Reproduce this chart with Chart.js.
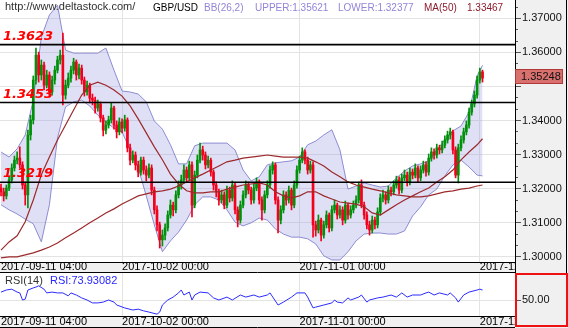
<!DOCTYPE html>
<html>
<head>
<meta charset="utf-8">
<script src="https://cdn.jsdelivr.net/npm/chart.js@4.4.1/dist/chart.umd.min.js"></script>
<style>
  html, body { margin:0; padding:0; background:#fff; }
  #wrap { position:relative; width:568px; height:328px; overflow:hidden; background:#fff; }
  canvas { position:absolute; left:0; }
  #c1 { top:0; width:568px; height:273px; }
  #c2 { top:273px; width:568px; height:55px; }
  .t { position:absolute; font-family:"Liberation Sans", Arial, sans-serif; font-size:10px; line-height:13px; white-space:nowrap; }
  .u { font-size:11px; }
</style>
</head>
<body>
<div id="wrap">
  <canvas id="c1" width="568" height="273"></canvas>
  <canvas id="c2" width="568" height="55"></canvas>
  <span class="t u" style="left:5px;top:0;color:#303030">http://www.deltastock.com/</span>
  <span class="t" style="left:153px;top:1px;color:#000">GBP/USD</span>
  <span class="t" style="left:204px;top:1px;color:#9484d8">BB(26,2)</span>
  <span class="t" style="left:255px;top:1px;color:#9484d8">UPPER:1.35621</span>
  <span class="t" style="left:338px;top:1px;color:#9484d8">LOWER:1.32377</span>
  <span class="t" style="left:424px;top:1px;color:#8b1c2c">MA(50)</span>
  <span class="t" style="left:467px;top:1px;color:#8b1c2c">1.33467</span>
  <span class="t u" style="left:5px;top:274px;color:#333">RSI(14)</span>
  <span class="t u" style="left:50px;top:274px;color:#2828ff">RSI:73.93082</span>
</div>
<script>
// ---------------- data ----------------
const dateLabels  = ['2017-09-11 04:00', '2017-10-02 00:00', '2017-11-01 00:00', '2017-12-01 00:00'];
const dateTickIdx = [0, 45, 111, 178];
const levels = [1.3623, 1.3453, 1.3219];
const rsiTicks = [50];

const open = [
1.3202,1.3191,1.3179,1.3202,1.3226,1.3261,1.3284,1.3290,1.3270,1.3211,
1.3182,1.3358,1.3402,1.3519,1.3592,1.3534,1.3563,1.3504,1.3534,1.3484,
1.3519,1.3548,1.3578,1.3592,1.3475,1.3504,1.3525,1.3548,1.3572,1.3534,
1.3554,1.3519,1.3484,1.3504,1.3466,1.3460,1.3437,1.3449,1.3408,1.3372,
1.3387,1.3402,1.3437,1.3387,1.3367,1.3396,1.3378,1.3402,1.3320,1.3284,
1.3299,1.3270,1.3249,1.3284,1.3255,1.3240,1.3261,1.3196,1.3138,1.3094,
1.3050,1.3064,1.3085,1.3123,1.3152,1.3138,1.3182,1.3211,1.3226,1.3255,
1.3232,1.3270,1.3152,1.3240,1.3284,1.3314,1.3299,1.3270,1.3284,1.3249,
1.3211,1.3191,1.3167,1.3182,1.3152,1.3196,1.3173,1.3211,1.3138,1.3108,
1.3152,1.3182,1.3211,1.3196,1.3167,1.3202,1.3220,1.3167,1.3138,1.3182,
1.3211,1.3255,1.3270,1.3167,1.3108,1.3138,1.3182,1.3167,1.3196,1.3152,
1.3211,1.3255,1.3284,1.3308,1.3284,1.3255,1.3270,1.3094,1.3079,1.3108,
1.3064,1.3094,1.3123,1.3085,1.3138,1.3152,1.3123,1.3138,1.3108,1.3152,
1.3123,1.3138,1.3152,1.3167,1.3211,1.3152,1.3123,1.3094,1.3079,1.3108,
1.3094,1.3132,1.3173,1.3182,1.3167,1.3196,1.3191,1.3211,1.3226,1.3196,
1.3232,1.3240,1.3220,1.3249,1.3240,1.3261,1.3232,1.3255,1.3270,1.3249,
1.3290,1.3308,1.3299,1.3320,1.3314,1.3328,1.3343,1.3358,1.3367,1.3314,
1.3240,1.3320,1.3343,1.3367,1.3387,1.3425,1.3449,1.3475,1.3519,1.3543];

const high = [
1.3214,1.3202,1.3211,1.3237,1.3273,1.3296,1.3308,1.3323,1.3279,1.3220,
1.3372,1.3416,1.3531,1.3613,1.3601,1.3578,1.3572,1.3548,1.3543,1.3531,
1.3560,1.3589,1.3607,1.3657,1.3519,1.3540,1.3560,1.3583,1.3578,1.3566,
1.3563,1.3528,1.3516,1.3510,1.3478,1.3469,1.3460,1.3455,1.3416,1.3399,
1.3413,1.3452,1.3443,1.3399,1.3408,1.3405,1.3416,1.3408,1.3331,1.3311,
1.3308,1.3281,1.3293,1.3293,1.3267,1.3273,1.3270,1.3205,1.3150,1.3102,
1.3079,1.3097,1.3135,1.3167,1.3161,1.3194,1.3223,1.3240,1.3270,1.3264,
1.3281,1.3279,1.3252,1.3299,1.3334,1.3325,1.3308,1.3296,1.3290,1.3255,
1.3220,1.3199,1.3196,1.3191,1.3208,1.3205,1.3223,1.3217,1.3147,1.3164,
1.3194,1.3223,1.3220,1.3205,1.3214,1.3232,1.3226,1.3176,1.3194,1.3223,
1.3267,1.3279,1.3276,1.3176,1.3150,1.3194,1.3191,1.3208,1.3202,1.3223,
1.3267,1.3296,1.3320,1.3314,1.3293,1.3281,1.3279,1.3105,1.3123,1.3114,
1.3105,1.3135,1.3129,1.3150,1.3167,1.3158,1.3150,1.3147,1.3164,1.3158,
1.3150,1.3164,1.3179,1.3220,1.3226,1.3161,1.3132,1.3105,1.3120,1.3117,
1.3144,1.3185,1.3196,1.3191,1.3208,1.3205,1.3223,1.3237,1.3235,1.3243,
1.3255,1.3249,1.3261,1.3258,1.3273,1.3267,1.3267,1.3281,1.3279,1.3302,
1.3320,1.3317,1.3331,1.3328,1.3340,1.3355,1.3369,1.3378,1.3372,1.3323,
1.3331,1.3355,1.3378,1.3399,1.3437,1.3460,1.3487,1.3531,1.3554,1.3548];

const low = [
1.3179,1.3164,1.3170,1.3194,1.3217,1.3252,1.3273,1.3261,1.3199,1.3152,
1.3144,1.3343,1.3390,1.3507,1.3513,1.3519,1.3490,1.3496,1.3469,1.3475,
1.3507,1.3540,1.3566,1.3446,1.3463,1.3496,1.3513,1.3537,1.3519,1.3522,
1.3507,1.3472,1.3475,1.3452,1.3446,1.3422,1.3428,1.3396,1.3355,1.3361,
1.3378,1.3393,1.3375,1.3349,1.3358,1.3364,1.3369,1.3308,1.3270,1.3276,
1.3255,1.3235,1.3240,1.3243,1.3223,1.3232,1.3182,1.3126,1.3076,1.3026,
1.3032,1.3050,1.3076,1.3114,1.3120,1.3129,1.3173,1.3199,1.3217,1.3220,
1.3223,1.3117,1.3144,1.3232,1.3276,1.3284,1.3258,1.3261,1.3237,1.3196,
1.3176,1.3152,1.3158,1.3141,1.3144,1.3161,1.3164,1.3126,1.3088,1.3099,
1.3144,1.3173,1.3185,1.3155,1.3158,1.3194,1.3155,1.3108,1.3129,1.3173,
1.3202,1.3243,1.3155,1.3070,1.3097,1.3129,1.3152,1.3158,1.3138,1.3144,
1.3202,1.3246,1.3276,1.3273,1.3243,1.3246,1.3058,1.3061,1.3070,1.3047,
1.3055,1.3085,1.3073,1.3076,1.3129,1.3111,1.3114,1.3094,1.3099,1.3111,
1.3114,1.3129,1.3144,1.3158,1.3144,1.3111,1.3082,1.3064,1.3070,1.3082,
1.3085,1.3123,1.3161,1.3155,1.3158,1.3179,1.3182,1.3202,1.3185,1.3188,
1.3223,1.3208,1.3211,1.3229,1.3232,1.3220,1.3223,1.3246,1.3237,1.3240,
1.3281,1.3287,1.3290,1.3302,1.3305,1.3320,1.3334,1.3346,1.3302,1.3232,
1.3217,1.3311,1.3334,1.3358,1.3378,1.3416,1.3440,1.3466,1.3510,1.3513];

const close = [
1.3191,1.3179,1.3202,1.3226,1.3261,1.3284,1.3290,1.3270,1.3211,1.3182,
1.3358,1.3402,1.3519,1.3592,1.3534,1.3563,1.3504,1.3534,1.3484,1.3519,
1.3548,1.3578,1.3592,1.3475,1.3504,1.3525,1.3548,1.3572,1.3534,1.3554,
1.3519,1.3484,1.3504,1.3466,1.3460,1.3437,1.3449,1.3408,1.3372,1.3387,
1.3402,1.3437,1.3387,1.3367,1.3396,1.3378,1.3402,1.3320,1.3284,1.3299,
1.3270,1.3249,1.3284,1.3255,1.3240,1.3261,1.3196,1.3138,1.3094,1.3050,
1.3064,1.3085,1.3123,1.3152,1.3138,1.3182,1.3211,1.3226,1.3255,1.3232,
1.3270,1.3152,1.3240,1.3284,1.3314,1.3299,1.3270,1.3284,1.3249,1.3211,
1.3191,1.3167,1.3182,1.3152,1.3196,1.3173,1.3211,1.3138,1.3108,1.3152,
1.3182,1.3211,1.3196,1.3167,1.3202,1.3220,1.3167,1.3138,1.3182,1.3211,
1.3255,1.3270,1.3167,1.3108,1.3138,1.3182,1.3167,1.3196,1.3152,1.3211,
1.3255,1.3284,1.3308,1.3284,1.3255,1.3270,1.3094,1.3079,1.3108,1.3064,
1.3094,1.3123,1.3085,1.3138,1.3152,1.3123,1.3138,1.3108,1.3152,1.3123,
1.3138,1.3152,1.3167,1.3211,1.3152,1.3123,1.3094,1.3079,1.3108,1.3094,
1.3132,1.3173,1.3182,1.3167,1.3196,1.3191,1.3211,1.3226,1.3196,1.3232,
1.3240,1.3220,1.3249,1.3240,1.3261,1.3232,1.3255,1.3270,1.3249,1.3290,
1.3308,1.3299,1.3320,1.3314,1.3328,1.3343,1.3358,1.3367,1.3314,1.3240,
1.3320,1.3343,1.3367,1.3387,1.3425,1.3449,1.3475,1.3519,1.3543,1.35248];

const bandIdx = [0,3,6,9,12,15,18,21,24,27,30,33,36,39,42,45,48,51,54,57,60,63,66,69,72,75,78,81,84,87,
  90,93,96,99,102,105,108,111,114,117,120,123,126,129,132,135,138,141,144,147,150,153,156,159,162,165,168,171,174,177,179];

const bbUpper = [1.3308,1.3293,1.3317,1.3358,1.3460,1.3645,1.3710,1.3739,1.3607,1.3598,
  1.3598,1.3598,1.3598,1.3613,1.3548,1.3487,1.3484,1.3478,1.3455,1.3399,
  1.3375,1.3329,1.3273,1.3273,1.3326,1.3334,1.3334,1.3334,1.3334,1.3314,
  1.3255,1.3223,1.3235,1.3270,1.3276,1.3279,1.3282,1.3293,1.3329,1.3340,
  1.3358,1.3373,1.3314,1.3199,1.3208,1.3217,1.3211,1.3205,1.3208,1.3232,
  1.3252,1.3267,1.3273,1.3282,1.3314,1.3343,1.3370,1.3384,1.3425,1.3531,1.35621];

const bbLower = [1.3153,1.3138,1.3126,1.3111,1.3097,1.3044,1.3153,1.3349,1.3440,1.3455,
  1.3460,1.3443,1.3416,1.3396,1.3378,1.3367,1.3314,1.3261,1.3179,1.3094,
  1.3015,1.3047,1.3073,1.3108,1.3153,1.3176,1.3176,1.3167,1.3138,1.3102,
  1.3091,1.3100,1.3114,1.3108,1.3082,1.3067,1.3058,1.3058,1.3053,1.3038,
  1.3003,1.2991,1.2991,1.3015,1.3047,1.3067,1.3070,1.3070,1.3067,1.3067,
  1.3076,1.3120,1.3147,1.3182,1.3199,1.3238,1.3270,1.3284,1.3264,1.3240,1.32377];

const ma50 = [1.3020,1.3044,1.3062,1.3103,1.3167,1.3241,1.3293,1.3343,1.3387,1.3431,
  1.3475,1.3504,1.3513,1.3504,1.3490,1.3472,1.3443,1.3405,1.3364,1.3323,
  1.3285,1.3243,1.3214,1.3194,1.3188,1.3188,1.3191,1.3191,1.3199,1.3205,
  1.3211,1.3214,1.3217,1.3211,1.3191,1.3179,1.3173,1.3179,1.3191,1.3191,
  1.3179,1.3170,1.3161,1.3158,1.3155,1.3147,1.3129,1.3123,1.3138,1.3153,
  1.3167,1.3179,1.3191,1.3202,1.3220,1.3235,1.3255,1.3285,1.3308,1.3329,1.33467];

const maLong = [1.2997,1.3000,1.3000,1.3006,1.3012,1.3020,1.3029,1.3041,1.3056,1.3070,
  1.3085,1.3100,1.3114,1.3129,1.3141,1.3155,1.3167,1.3179,1.3185,1.3191,
  1.3194,1.3199,1.3208,1.3220,1.3232,1.3243,1.3255,1.3267,1.3279,1.3284,
  1.3290,1.3293,1.3296,1.3299,1.3296,1.3293,1.3293,1.3293,1.3290,1.3279,
  1.3267,1.3249,1.3235,1.3220,1.3211,1.3205,1.3199,1.3194,1.3188,1.3182,
  1.3179,1.3176,1.3176,1.3179,1.3185,1.3191,1.3194,1.3199,1.3202,1.3208,1.3211];

const rsiIdx = [0,2,4,6,7,8,9,10,12,13,14,16,17,19,21,23,25,26,28,30,32,34,36,38,40,42,43,46,49,51,53,55,58,59,60,62,64,66,67,68,70,71,72,74,77,79,81,84,86,89,91,94,96,99,100,103,105,108,110,113,114,116,117,120,123,124,125,127,129,130,133,134,136,137,140,142,145,147,149,151,153,156,158,159,161,163,166,167,169,170,172,174,177,178,179];
const rsiVal = [69,74,76,69,67,50,52,74,79,81,84,76,67,69,67,67,60,67,62,55,50,43,43,45,50,45,38,31,26,28,24,21,16,21,38,50,57,67,74,62,69,50,62,69,67,55,50,57,50,62,57,62,57,62,67,38,45,57,67,67,57,31,33,38,43,50,45,43,55,50,57,62,45,50,55,57,62,57,67,57,62,62,67,69,62,67,62,67,55,45,62,69,74,76,73.93];

// ---------------- chart helpers ----------------
const UP = '#00900a', DOWN = '#f2001c';
const candleColor = c => (close[c.dataIndex] >= open[c.dataIndex] ? UP : DOWN);
const FONT = 'Liberation Sans';

function dateAxis(pad) {
  return {
    type: 'linear', position: 'bottom', min: -0.37, max: 191.08, offset: false,
    afterBuildTicks: s => { s.ticks = dateTickIdx.map(v => ({ value: v })); },
    afterFit: s => { s.height = 11; s.paddingLeft = 0; s.paddingRight = 0; },
    ticks: { autoSkip: false, maxRotation: 0, minRotation: 0, align: 'start', padding: pad, color: '#000',
             font: { family: FONT, size: 11, lineHeight: 1 }, callback: (v, i) => dateLabels[i] },
    grid: { color: c => (c.index === 0 ? 'rgba(0,0,0,0)' : '#e3e3e3'), drawTicks: false, offset: false },
    border: { color: '#000', width: 1 },
    backgroundColor: '#f0f0f0'
  };
}

const clipXLabels = {
  id: 'clipXLabels',
  beforeDraw(chart) {
    const s = chart.scales.x;
    if (s && !s.__wrapped) {
      const orig = s.drawLabels;
      s.drawLabels = function (area) {
        const ctx = chart.ctx;
        ctx.save(); ctx.beginPath(); ctx.rect(0, s.top, chart.chartArea.right, s.height + 2); ctx.clip();
        orig.call(this, area);
        ctx.restore();
      };
      s.__wrapped = true;
    }
  }
};

const decor1 = {
  id: 'decor1',
  afterDatasetsDraw(chart) {
    const { ctx, chartArea: a } = chart; const ys = chart.scales.y;
    ctx.save();
    ctx.beginPath(); ctx.rect(a.left, a.top, a.right - a.left, a.bottom - a.top); ctx.clip();
    levels.forEach(v => {
      const py = ys.getPixelForValue(v);
      ctx.strokeStyle = '#000'; ctx.lineWidth = 1.6;
      ctx.beginPath(); ctx.moveTo(a.left, py); ctx.lineTo(a.right, py); ctx.stroke();
      ctx.fillStyle = '#ff0000'; ctx.font = 'italic bold 13px "DejaVu Sans"';
      ctx.textAlign = 'left'; ctx.textBaseline = 'alphabetic';
      ctx.fillText(v.toFixed(4), a.left + 3, py - 5);
    });
    ctx.restore();
  },
  afterDraw(chart) {
    const { ctx, chartArea: a } = chart; const ys = chart.scales.y;
    ctx.save();
    ctx.fillStyle = '#f0f0f0';
    ctx.fillRect(a.right + 1, a.bottom, chart.width - a.right - 1, chart.height - a.bottom);
    ctx.strokeStyle = '#000'; ctx.lineWidth = 1;
    ctx.beginPath();
    ctx.moveTo(0, chart.height - 0.5); ctx.lineTo(a.right, chart.height - 0.5);
    ctx.moveTo(a.right + 0.5, a.bottom); ctx.lineTo(a.right + 0.5, chart.height);
    ctx.moveTo(chart.width - 1.5, 0); ctx.lineTo(chart.width - 1.5, chart.height);
    ctx.stroke();
    const last = close[close.length - 1];
    const py = ys.getPixelForValue(last) - 1.5;
    ctx.fillStyle = '#d8706e'; ctx.fillRect(515.5, Math.round(py) - 7.5, 47, 14);
    ctx.strokeStyle = '#b03a3a'; ctx.strokeRect(515.5, Math.round(py) - 7.5, 47, 14);
    ctx.fillStyle = '#111'; ctx.font = '11px "' + FONT + '"'; ctx.textAlign = 'left'; ctx.textBaseline = 'middle';
    ctx.fillText(last.toFixed(5), 521, Math.round(py) - 0.5);
    ctx.restore();
  }
};

const decor2 = {
  id: 'decor2',
  afterDraw(chart) {
    const { ctx, chartArea: a } = chart;
    ctx.save();
    ctx.fillStyle = '#f0f0f0';
    ctx.fillRect(a.right + 1, a.bottom, chart.width - a.right - 1, chart.height - a.bottom);
    ctx.strokeStyle = '#000'; ctx.lineWidth = 1;
    ctx.beginPath();
    ctx.moveTo(0, chart.height - 0.5); ctx.lineTo(a.right, chart.height - 0.5);
    ctx.stroke();
    ctx.strokeStyle = '#ee1111'; ctx.lineWidth = 2;
    ctx.strokeRect(a.right + 1, 1, chart.width - a.right - 2, chart.height - 3);
    ctx.restore();
  }
};

const lastClose = close[close.length - 1];

// ---------------- price chart ----------------
new Chart(document.getElementById('c1'), {
  type: 'bar',
  data: {
    datasets: [
      { type: 'line', label: 'BB upper', data: bandIdx.map((x, k) => ({ x, y: bbUpper[k] })),
        borderColor: '#8c8cd2', borderWidth: 1, pointRadius: 0, tension: 0,
        fill: '+1', backgroundColor: 'rgba(140,140,220,0.28)', order: 10, xAxisID: 'x', yAxisID: 'y' },
      { type: 'line', label: 'BB lower', data: bandIdx.map((x, k) => ({ x, y: bbLower[k] })),
        borderColor: '#8c8cd2', borderWidth: 1, pointRadius: 0, tension: 0, fill: false, order: 9, xAxisID: 'x', yAxisID: 'y' },
      { type: 'bar', label: 'wick', data: close.map((c, i) => ({ x: i, y: [low[i], high[i]] })),
        barThickness: 1, grouped: false, backgroundColor: candleColor, borderWidth: 0, order: 6, xAxisID: 'x', yAxisID: 'y' },
      { type: 'bar', label: 'body', data: close.map((c, i) => ({ x: i, y: [open[i], close[i]] })),
        barThickness: 2, grouped: false, minBarLength: 1, backgroundColor: candleColor, borderWidth: 0, order: 5, xAxisID: 'x', yAxisID: 'y' },
      { type: 'line', label: 'MA long', data: bandIdx.map((x, k) => ({ x, y: maLong[k] })),
        borderColor: '#9c2a2c', borderWidth: 1.2, pointRadius: 0, tension: 0, fill: false, order: 2, xAxisID: 'x', yAxisID: 'y' },
      { type: 'line', label: 'MA(50)', data: bandIdx.map((x, k) => ({ x, y: ma50[k] })),
        borderColor: '#9c2a2c', borderWidth: 1.2, pointRadius: 0, tension: 0, fill: false, order: 1, xAxisID: 'x', yAxisID: 'y' }
    ]
  },
  options: {
    responsive: false, animation: false, events: [],
    layout: { padding: 0 },
    plugins: { legend: { display: false }, tooltip: { enabled: false } },
    scales: {
      x: dateAxis(-1),
      y: { type: 'linear', position: 'right', min: 1.2985, max: 1.3754, weight: 2, beginAtZero: false,
           afterFit: s => { s.width = 53; s.paddingTop = 0; s.paddingBottom = 0; },
           ticks: { stepSize: 0.01, includeBounds: false, padding: 1, color: '#111', font: { family: FONT, size: 11 },
                    callback: v => (Math.abs(v - lastClose) < 0.004 ? '' : v.toFixed(5)) },
           grid: { color: '#e3e3e3', tickColor: '#555', tickLength: 6 },
           border: { color: '#000', width: 1 },
           backgroundColor: '#f0f0f0' },
      yMinor: { type: 'linear', position: 'right', min: 1.2985, max: 1.3754, weight: 1, beginAtZero: false,
           afterFit: s => { s.width = 0; s.paddingTop = 0; s.paddingBottom = 0; },
           ticks: { display: false, stepSize: 0.01 / 3, includeBounds: false },
           grid: { drawOnChartArea: false, tickColor: '#555', tickLength: 3 },
           border: { display: false } }
    }
  },
  plugins: [clipXLabels, decor1]
});

// ---------------- RSI chart ----------------
new Chart(document.getElementById('c2'), {
  type: 'line',
  data: {
    datasets: [
      { label: 'RSI(14)', data: rsiIdx.map((x, k) => ({ x, y: rsiVal[k] })),
        borderColor: '#2b2bff', borderWidth: 1, pointRadius: 0, tension: 0, fill: false }
    ]
  },
  options: {
    responsive: false, animation: false, events: [],
    layout: { padding: { top: 0, bottom: 1, left: 0, right: 0 } },
    plugins: { legend: { display: false }, tooltip: { enabled: false } },
    scales: {
      x: dateAxis(0),
      y: { type: 'linear', position: 'right', min: 11.6, max: 114.8,
           afterBuildTicks: s => { s.ticks = rsiTicks.map(v => ({ value: v })); },
           afterFit: s => { s.width = 53; s.paddingTop = 0; s.paddingBottom = 0; },
           ticks: { padding: 1, color: '#111', font: { family: FONT, size: 11 }, callback: v => v.toFixed(2) },
           grid: { color: '#e3e3e3', tickColor: '#555', tickLength: 6 },
           border: { color: '#000', width: 1 },
           backgroundColor: '#f0f0f0' }
    }
  },
  plugins: [clipXLabels, decor2]
});
</script>
</body>
</html>
